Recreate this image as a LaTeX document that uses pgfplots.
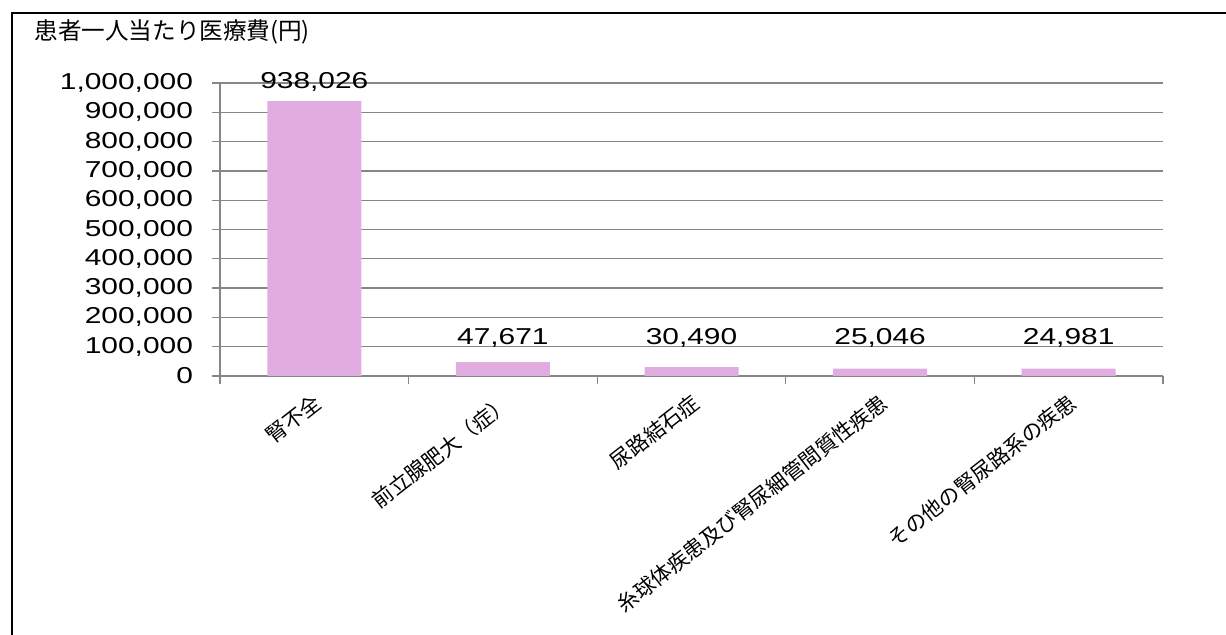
\documentclass[border=0pt]{standalone}
\usepackage{fontspec}
\usepackage{pgfplots}
\usepackage{pgfplotstable}
\pgfplotsset{compat=1.18}
\setmainfont{Noto Sans CJK JP}
\newfontfamily\numfont[FakeStretch=1.3]{Liberation Sans}
\definecolor{barpink}{RGB}{225,172,223}
\definecolor{gridgray}{RGB}{134,134,134}
\pgfplotstableread{
x y off
0 938026 1.5
1 47671 3.8
2 30490 6.3
3 25046 7.3
4 24981 7.3
}\datatable
\begin{document}
\begin{tikzpicture}
\begin{axis}[
  scale only axis, width=471.5pt, height=146.5pt,
  ymin=0, ymax=1000000, xmin=-0.5, xmax=4.5,
  ytick={0,100000,200000,300000,400000,500000,600000,700000,800000,900000,1000000},
  scaled y ticks=false,
  xtick={-0.5,0.5,1.5,2.5,3.5,4.5},
  x tick label as interval,
  xticklabels={腎不全,前立腺肥大（症）,尿路結石症,糸球体疾患及び腎尿細管間質性疾患,その他の腎尿路系の疾患},
  xticklabel style={rotate=38, anchor=north east, font=\fontsize{10.5}{12}\selectfont, inner sep=1pt, yshift=-1.5pt, xshift=-2pt},
  /pgf/number format/assume math mode=true,
  yticklabel style={font=\numfont\fontsize{11.5}{12}\selectfont, /pgf/number format/fixed, /pgf/number format/1000 sep={,}, xshift=-6pt},
  axis lines*=left,
  axis line style={gridgray, line width=0.65pt},
  tick style={gridgray, line width=0.65pt},
  major tick length=4pt,
  tick align=outside,
  ymajorgrids,
  major grid style={gridgray, line width=0.65pt},
  ybar, bar width=47pt,
  nodes near coords,
  visualization depends on={\thisrow{off} \as \myoff},
  nodes near coords style={font=\numfont\fontsize{11.5}{12}\selectfont, /pgf/number format/fixed, /pgf/number format/1000 sep={,}, yshift=\myoff pt, text=black},
  point meta=y,
  clip=false,
]
\addplot[fill=barpink, draw=none, bar shift=0pt] table[x=x, y=y] {\datatable};
\coordinate (bbsw) at (rel axis cs:-0.23330,-0.88396);
\coordinate (bbne) at (rel axis cs:1.06681,1.28328);
\coordinate (frtl) at (rel axis cs:-0.22057,1.23891);
\coordinate (frbl) at (rel axis cs:-0.22057,-0.95);
\coordinate (frtr) at (rel axis cs:1.10,1.23891);
\coordinate (ttl) at (rel axis cs:-0.19724,1.17406);
\end{axis}
\draw[line width=1.1pt] (frbl) -- (frtl) -- (frtr);
\node[anchor=west, inner sep=0pt, font=\fontsize{11.8}{13}\selectfont] at (ttl) {患者一人当たり医療費(円)};
\pgfresetboundingbox
\path[use as bounding box] (bbsw) rectangle (bbne);
\end{tikzpicture}
\end{document}
